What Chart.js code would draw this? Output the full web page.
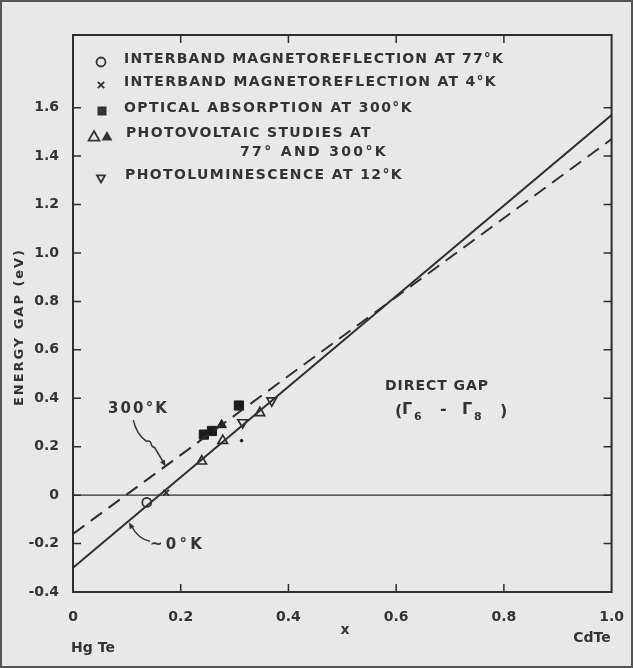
<!DOCTYPE html>
<html>
<head>
<meta charset="utf-8">
<script src="https://cdn.jsdelivr.net/npm/chart.js@4.4.1/dist/chart.umd.min.js"></script>
<style>
  html, body { margin: 0; padding: 0; background: #e8e9e6; }
  #wrap { width: 633px; height: 668px; }
</style>
</head>
<body>
<div id="wrap"><canvas id="gapChart" width="633" height="668"></canvas></div>
<script>
// axis ticks
const xTicks = [0, 0.2, 0.4, 0.6, 0.8, 1.0];
const yTicks = [-0.4, -0.2, 0, 0.2, 0.4, 0.6, 0.8, 1.0, 1.2, 1.4, 1.6];

// straight lines, end values (x = 0 and x = 1)
const lineX = [0, 1.0];
const gap0K = [-0.30, 1.57];
const gap300K = [-0.16, 1.47];
const zeroLine = [0, 0];

// measured points, [x, energy gap in eV]
const magneto77 = [[0.137, -0.03]];
const magneto4 = [[0.173, 0.01]];
const absorption300 = [[0.243, 0.25], [0.258, 0.265], [0.308, 0.37]];
const photovoltaic77 = [[0.239, 0.14], [0.278, 0.225], [0.347, 0.34]];
const photovoltaic300 = [[0.276, 0.29]];
const photolum12 = [[0.315, 0.30], [0.369, 0.39]];
const strayDot = [[0.313, 0.225]];

const legendRows = [
    ['circle', 'INTERBAND MAGNETOREFLECTION AT 77°K'],
    ['cross', 'INTERBAND MAGNETOREFLECTION AT 4°K'],
    ['square', 'OPTICAL ABSORPTION AT 300°K'],
    ['tri2', 'PHOTOVOLTAIC STUDIES AT'],
    ['', '77° AND 300°K'],
    ['triDown', 'PHOTOLUMINESCENCE AT 12°K']
];

const ink = '#2e2e2e';
const toPts = arr => arr.map(p => ({ x: p[0], y: p[1] }));
const toLine = vals => lineX.map((x, i) => ({ x: x, y: vals[i] }));

function spacedText(ctx, str, x, y, endX) {
    ctx.letterSpacing = '0px';
    const w = ctx.measureText(str).width;
    const sp = (endX - x - w) / str.length;
    ctx.letterSpacing = sp + 'px';
    ctx.fillText(str, x, y);
    ctx.letterSpacing = '0px';
}

function drawMark(ctx, kind, x, y, r) {
    ctx.beginPath();
    if (kind === 'circle') {
        ctx.arc(x, y, r, 0, Math.PI * 2);
        ctx.stroke();
    } else if (kind === 'cross') {
        ctx.moveTo(x - r, y - r); ctx.lineTo(x + r, y + r);
        ctx.moveTo(x + r, y - r); ctx.lineTo(x - r, y + r);
        ctx.stroke();
    } else if (kind === 'square') {
        ctx.fillRect(x - r, y - r, 2 * r, 2 * r);
    } else if (kind === 'tri' || kind === 'triFill') {
        ctx.moveTo(x, y - r);
        ctx.lineTo(x + r * 0.9, y + r * 0.6);
        ctx.lineTo(x - r * 0.9, y + r * 0.6);
        ctx.closePath();
        if (kind === 'tri') ctx.stroke(); else ctx.fill();
    } else if (kind === 'triDown') {
        ctx.moveTo(x, y + r);
        ctx.lineTo(x + r * 0.9, y - r * 0.6);
        ctx.lineTo(x - r * 0.9, y - r * 0.6);
        ctx.closePath();
        ctx.stroke();
    }
}

function arrowHead(ctx, from, to, size) {
    const a = Math.atan2(to.y - from.y, to.x - from.x);
    ctx.beginPath();
    ctx.moveTo(to.x, to.y);
    ctx.lineTo(to.x - size * Math.cos(a - 0.4), to.y - size * Math.sin(a - 0.4));
    ctx.lineTo(to.x - size * Math.cos(a + 0.4), to.y - size * Math.sin(a + 0.4));
    ctx.closePath();
    ctx.fill();
}

const paperPlugin = {
    id: 'paper',
    beforeDraw(chart) {
        const ctx = chart.ctx;
        ctx.save();
        ctx.fillStyle = '#e8e9e6';
        ctx.fillRect(0, 0, chart.width, chart.height);
        ctx.restore();
    },
    afterDraw(chart) {
        const ctx = chart.ctx;
        const a = chart.chartArea;
        const xs = chart.scales.x, ys = chart.scales.y;
        ctx.save();

        // plot frame and inward ticks
        ctx.strokeStyle = ink;
        ctx.lineWidth = 2;
        ctx.strokeRect(a.left, a.top, a.right - a.left, a.bottom - a.top);
        ctx.lineWidth = 1.5;
        ctx.beginPath();
        xTicks.slice(1, -1).forEach(v => {
            const px = xs.getPixelForValue(v);
            ctx.moveTo(px, a.bottom); ctx.lineTo(px, a.bottom - 8);
            ctx.moveTo(px, a.top); ctx.lineTo(px, a.top + 8);
        });
        yTicks.slice(1).forEach(v => {
            const py = ys.getPixelForValue(v);
            ctx.moveTo(a.left, py); ctx.lineTo(a.left + 8, py);
            ctx.moveTo(a.right, py); ctx.lineTo(a.right - 8, py);
        });
        ctx.stroke();

        // legend block
        ctx.fillStyle = '#333';
        ctx.strokeStyle = '#333';
        ctx.font = 'bold 14px "DejaVu Sans"';
        ctx.textBaseline = 'middle';
        const rowY = [59, 82, 108, 133, 152, 175];
        const rowX = [124, 124, 124, 126, 240, 125];
        const rowEnd = [504, 497, 413, 372, 388, 403];
        legendRows.forEach((row, i) => {
            spacedText(ctx, row[1], rowX[i], rowY[i], rowEnd[i]);
            ctx.lineWidth = 1.8;
            if (row[0] === 'tri2') {
                drawMark(ctx, 'tri', 94, rowY[i] + 4, 6);
                drawMark(ctx, 'triFill', 107, rowY[i] + 4, 6);
            } else if (row[0] === 'square') {
                drawMark(ctx, 'square', 102, rowY[i] + 3, 4.5);
            } else if (row[0] === 'cross') {
                drawMark(ctx, 'cross', 101, rowY[i] + 3, 3.2);
            } else if (row[0]) {
                drawMark(ctx, row[0], 101, rowY[i] + 3, 4.5);
            }
        });

        // axis titles and end labels
        ctx.font = 'bold 14px "DejaVu Sans"';
        ctx.fillStyle = '#333';
        ctx.textAlign = 'center';
        ctx.fillText('x', 345, 630);
        ctx.fillText('Hg Te', 93, 648);
        ctx.fillText('CdTe', 592, 638);
        ctx.save();
        ctx.translate(20, 327);
        ctx.rotate(-Math.PI / 2);
        ctx.font = 'bold 13px "DejaVu Sans"';
        ctx.textAlign = 'left';
        spacedText(ctx, 'ENERGY GAP (eV)', -79, 0, 79);
        ctx.restore();

        // curve labels
        ctx.textAlign = 'left';
        ctx.font = 'bold 15px "DejaVu Sans"';
        spacedText(ctx, '300°K', 108, 409, 169);
        spacedText(ctx, '~0°K', 150, 545, 205);
        ctx.font = 'bold 14px "DejaVu Sans"';
        spacedText(ctx, 'DIRECT GAP', 385, 386, 489);
        // (Γ6 - Γ8)
        ctx.font = 'bold 16px "DejaVu Sans"';
        ctx.fillText('(', 395, 412);
        ctx.fillText('Γ', 402, 410);
        ctx.fillText('-', 440, 410);
        ctx.fillText('Γ', 462, 410);
        ctx.fillText(')', 500, 412);
        ctx.font = 'bold 11px "DejaVu Sans"';
        ctx.fillText('6', 414, 417);
        ctx.fillText('8', 474, 417);

        // arrows pointing at the two lines
        ctx.lineWidth = 1.5;
        const s1 = { x: xs.getPixelForValue(0.112), y: ys.getPixelForValue(0.31) };
        const t1 = { x: xs.getPixelForValue(0.172), y: ys.getPixelForValue(0.118) };
        const m1 = { x: (s1.x + t1.x) / 2 - 1, y: (s1.y + t1.y) / 2 };
        ctx.beginPath();
        ctx.moveTo(s1.x, s1.y);
        ctx.quadraticCurveTo(s1.x + 3, s1.y + 14, m1.x - 2, m1.y - 2);
        ctx.bezierCurveTo(m1.x + 5, m1.y - 4, m1.x + 1, m1.y + 5, m1.x + 6, m1.y + 4);
        ctx.lineTo(t1.x - 2, t1.y - 4);
        ctx.stroke();
        arrowHead(ctx, { x: m1.x + 6, y: m1.y + 4 }, t1, 7);

        const s2 = { x: xs.getPixelForValue(0.143), y: ys.getPixelForValue(-0.19) };
        const t2 = { x: xs.getPixelForValue(0.104), y: ys.getPixelForValue(-0.112) };
        ctx.beginPath();
        ctx.moveTo(s2.x, s2.y);
        ctx.quadraticCurveTo(s2.x - 12, s2.y - 2, t2.x + 2, t2.y + 3);
        ctx.stroke();
        arrowHead(ctx, { x: s2.x - 12, y: s2.y - 2 }, t2, 7);

        // photo edge
        ctx.lineWidth = 2;
        ctx.strokeStyle = '#555';
        ctx.strokeRect(1, 1, chart.width - 2, chart.height - 2);
        ctx.restore();
    }
};

const openPoint = (data, style, r, rot) => ({
    type: 'scatter',
    data: toPts(data),
    pointStyle: style,
    pointRadius: r,
    pointRotation: rot || 0,
    pointBackgroundColor: 'rgba(0,0,0,0)',
    pointBorderColor: ink,
    pointBorderWidth: 1.7
});
const filledPoint = (data, style, r) => ({
    type: 'scatter',
    data: toPts(data),
    pointStyle: style,
    pointRadius: r,
    pointBackgroundColor: '#1c1c1c',
    pointBorderColor: '#1c1c1c',
    pointBorderWidth: 1
});

new Chart(document.getElementById('gapChart'), {
    type: 'scatter',
    data: {
        datasets: [
            { type: 'line', data: toLine(gap0K), borderColor: ink, borderWidth: 2, pointRadius: 0, showLine: true },
            { type: 'line', data: toLine(gap300K), borderColor: ink, borderWidth: 2, borderDash: [14, 8], pointRadius: 0, showLine: true },
            { type: 'line', data: toLine(zeroLine), borderColor: ink, borderWidth: 1.4, pointRadius: 0, showLine: true },
            openPoint(magneto77, 'circle', 4.5),
            openPoint(magneto4, 'crossRot', 4),
            filledPoint(absorption300, 'rect', 6.5),
            openPoint(photovoltaic77, 'triangle', 5.5),
            filledPoint(photovoltaic300, 'triangle', 5.5),
            openPoint(photolum12, 'triangle', 5.5, 180),
            filledPoint(strayDot, 'circle', 1.3)
        ]
    },
    options: {
        responsive: false,
        animation: false,
        devicePixelRatio: 1,
        layout: { padding: { top: 35, right: 21, left: 0, bottom: 0 } },
        plugins: { legend: { display: false }, tooltip: { enabled: false } },
        scales: {
            x: {
                type: 'linear',
                min: 0,
                max: 1.0,
                grid: { display: false },
                border: { display: false },
                afterBuildTicks: scale => { scale.ticks = xTicks.map(v => ({ value: v })); },
                afterFit: scale => { scale.height = 76; },
                ticks: {
                    padding: 9,
                    color: '#333',
                    font: { family: 'DejaVu Sans', size: 14, weight: 'bold' },
                    callback: v => v === 0 ? '0' : v.toFixed(1)
                }
            },
            y: {
                type: 'linear',
                min: -0.4,
                max: 1.9,
                grid: { display: false },
                border: { display: false },
                afterBuildTicks: scale => { scale.ticks = yTicks.map(v => ({ value: v })); },
                afterFit: scale => { scale.width = 73; },
                ticks: {
                    padding: 6,
                    color: '#333',
                    font: { family: 'DejaVu Sans', size: 14, weight: 'bold' },
                    callback: v => Math.abs(v) < 1e-9 ? '0' : v.toFixed(1)
                }
            }
        }
    },
    plugins: [paperPlugin]
});
</script>
</body>
</html>
